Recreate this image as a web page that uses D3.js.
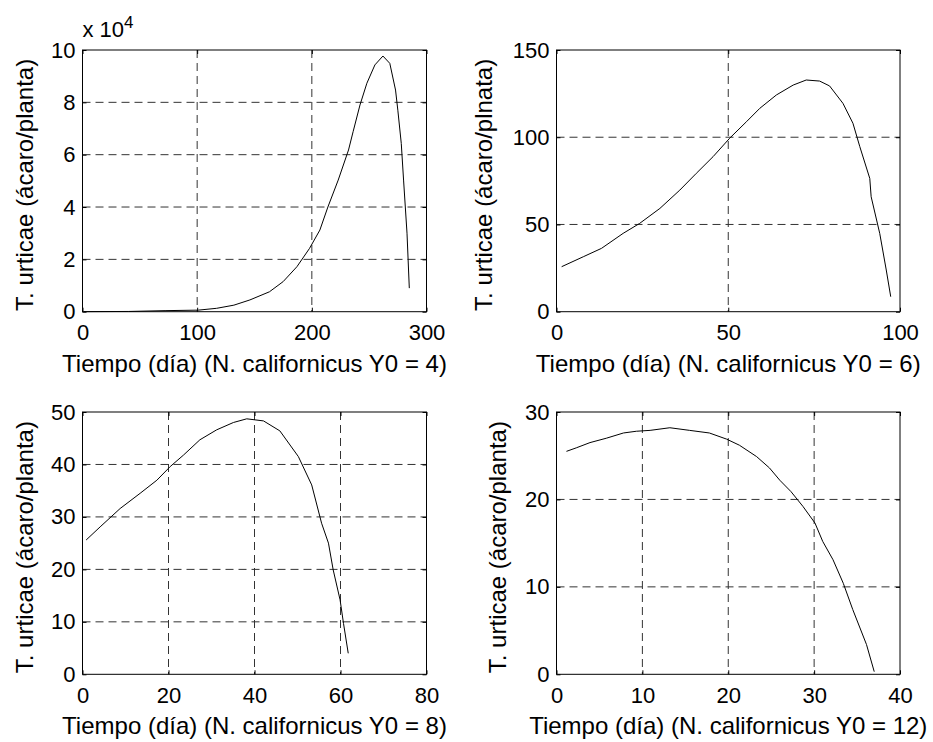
<!DOCTYPE html>
<html>
<head>
<meta charset="utf-8">
<script src="https://cdn.jsdelivr.net/npm/d3@7"></script>
<style>
  body { margin: 0; background: #fff; }
  svg text { font-family: "Liberation Sans", Arial, sans-serif; fill: #000; }
</style>
</head>
<body>
<svg id="fig" width="933" height="742"></svg>
<script>
// panel 1: N. californicus Y0 = 4 (mites per plant, axis shown x 10^4)
var days4 = [1, 40, 72, 101, 117, 132, 146, 163, 175, 187, 198, 207, 214, 223, 232, 236, 242, 248, 255, 262, 268, 273, 275, 278, 280, 283, 285];
var mites4 = [26, 90, 400, 600, 1300, 2500, 4500, 7600, 11500, 17200, 24200, 31200, 40000, 50300, 61800, 68800, 79000, 87300, 94300, 97700, 94900, 84700, 77000, 64300, 50300, 30000, 9000];

// panel 2: Y0 = 6
var days6 = [1.5, 7.8, 13.1, 19.4, 24.2, 30.1, 35.9, 40.7, 45.6, 50.4, 55.3, 59.2, 64, 68.9, 72.7, 76.6, 79.5, 83.4, 86.3, 88.3, 91.2, 91.6, 94.1, 96, 97.3];
var mites6 = [25.8, 31.5, 36.3, 44.9, 50.6, 59.2, 69.7, 79.3, 88.9, 99.4, 108.9, 116.6, 124.2, 129.9, 132.8, 132.2, 129.4, 119.4, 108, 94.6, 76.4, 65.9, 44.9, 23.9, 8.6];

// panel 3: Y0 = 8
var days8 = [0.85, 4.1, 8.75, 13.4, 17.3, 20.4, 23.5, 27.3, 31.2, 35.1, 38.2, 42.1, 45.9, 50.2, 53.3, 55.6, 57.2, 58.3, 59.9, 60.7, 61.8];
var mites8 = [25.6, 28.1, 31.6, 34.5, 37.0, 39.6, 41.8, 44.7, 46.6, 48.0, 48.7, 48.3, 46.4, 41.5, 36.1, 28.8, 25.0, 19.9, 14.2, 9.7, 4.0];

// panel 4: Y0 = 12
var days12 = [1.16, 2.3, 3.9, 5.8, 7.8, 9.3, 10.9, 13.2, 15.5, 17.8, 19.8, 21.3, 23.3, 24.8, 26.0, 27.3, 28.7, 30.1, 31.0, 32.2, 33.4, 34.5, 36.1, 37.0];
var mites12 = [25.5, 25.9, 26.5, 27.0, 27.6, 27.8, 27.9, 28.2, 27.9, 27.6, 26.9, 26.2, 24.9, 23.6, 22.2, 20.9, 19.2, 17.3, 15.2, 13.1, 10.4, 7.4, 3.4, 0.3];

// axis ticks
var xTicks4 = [0, 100, 200, 300], yTicks4 = [0, 20000, 40000, 60000, 80000, 100000];
var xTicks6 = [0, 50, 100], yTicks6 = [0, 50, 100, 150];
var xTicks8 = [0, 20, 40, 60, 80], yTicks8 = [0, 10, 20, 30, 40, 50];
var xTicks12 = [0, 10, 20, 30, 40], yTicks12 = [0, 10, 20, 30];

var xLabels = ["Tiempo (día) (N. californicus Y0 = 4)", "Tiempo (día) (N. californicus Y0 = 6)",
               "Tiempo (día) (N. californicus Y0 = 8)", "Tiempo (día) (N. californicus Y0 = 12)"];
var yLabels = ["T. urticae (ácaro/planta)", "T. urticae (ácaro/plnata)",
               "T. urticae (ácaro/planta)", "T. urticae (ácaro/planta)"];

var panels = [
  {x: days4, y: mites4, xt: xTicks4, yt: yTicks4, fmt: function(d) { return d / 10000; },
   box: [82.5, 50, 426.5, 311.7], ylabOff: 50},
  {x: days6, y: mites6, xt: xTicks6, yt: yTicks6, fmt: String,
   box: [556.5, 50, 900, 311.7], ylabOff: 65},
  {x: days8, y: mites8, xt: xTicks8, yt: yTicks8, fmt: String,
   box: [82.5, 412, 426.5, 674.3], ylabOff: 50},
  {x: days12, y: mites12, xt: xTicks12, yt: yTicks12, fmt: String,
   box: [556.5, 412, 900, 674.3], ylabOff: 51}
];

var svg = d3.select("#fig");
var fs = 22;     // tick labels
var lfs = 24;    // axis labels

panels.forEach(function(p, i) {
  var L = p.box[0], T = p.box[1], R = p.box[2], B = p.box[3];
  var w = R - L, h = B - T;
  var x = d3.scaleLinear().domain([p.xt[0], p.xt[p.xt.length - 1]]).range([0, w]);
  var y = d3.scaleLinear().domain([p.yt[0], p.yt[p.yt.length - 1]]).range([h, 0]);
  var g = svg.append("g").attr("transform", "translate(" + L + "," + T + ")");

  // dashed grid
  g.selectAll(".gx").data(p.xt.slice(1, -1)).enter().append("line")
    .attr("x1", function(d) { return x(d); }).attr("x2", function(d) { return x(d); })
    .attr("y1", 0).attr("y2", h)
    .attr("stroke", "#333").attr("stroke-width", 1).attr("stroke-dasharray", "8,5");
  g.selectAll(".gy").data(p.yt.slice(1, -1)).enter().append("line")
    .attr("y1", function(d) { return y(d); }).attr("y2", function(d) { return y(d); })
    .attr("x1", 0).attr("x2", w)
    .attr("stroke", "#333").attr("stroke-width", 1).attr("stroke-dasharray", "8,5");

  // axes, ticks pointing inward
  var ax = g.append("g").attr("transform", "translate(0," + h + ")")
    .call(d3.axisBottom(x).tickValues(p.xt).tickSize(-4).tickPadding(13));
  var ay = g.append("g")
    .call(d3.axisLeft(y).tickValues(p.yt).tickSize(-4).tickPadding(7).tickFormat(p.fmt));
  var at = g.append("g")
    .call(d3.axisTop(x).tickValues(p.xt).tickSize(-4).tickFormat(""));
  var ar = g.append("g").attr("transform", "translate(" + w + ",0)")
    .call(d3.axisRight(y).tickValues(p.yt).tickSize(-4).tickFormat(""));
  [ax, ay, at, ar].forEach(function(a) {
    a.select(".domain").remove();
    a.selectAll("text").attr("font-family", null).style("font-size", fs + "px");
    a.selectAll("line").attr("stroke", "#000");
  });

  // box
  g.append("rect").attr("width", w).attr("height", h)
    .attr("fill", "none").attr("stroke", "#000").attr("stroke-width", 1);

  // curve
  var pts = p.x.map(function(d, k) { return [d, p.y[k]]; });
  g.append("path").datum(pts)
    .attr("fill", "none").attr("stroke", "#000").attr("stroke-width", 1)
    .attr("d", d3.line().x(function(d) { return x(d[0]); }).y(function(d) { return y(d[1]); }));

  // labels
  g.append("text").attr("x", w / 2).attr("y", h + 60)
    .attr("text-anchor", "middle").style("font-size", lfs + "px").text(xLabels[i]);
  g.append("text")
    .attr("transform", "translate(" + (-p.ylabOff) + "," + (h / 2 + 4) + ") rotate(-90)")
    .attr("text-anchor", "middle").style("font-size", lfs + "px").text(yLabels[i]);

  if (i === 0) {
    var ex = g.append("text").attr("x", 0).attr("y", -13.5).style("font-size", fs + "px");
    ex.append("tspan").text("x 10");
    ex.append("tspan").attr("dy", -9).style("font-size", "17px").text("4");
  }
});
</script>
</body>
</html>
